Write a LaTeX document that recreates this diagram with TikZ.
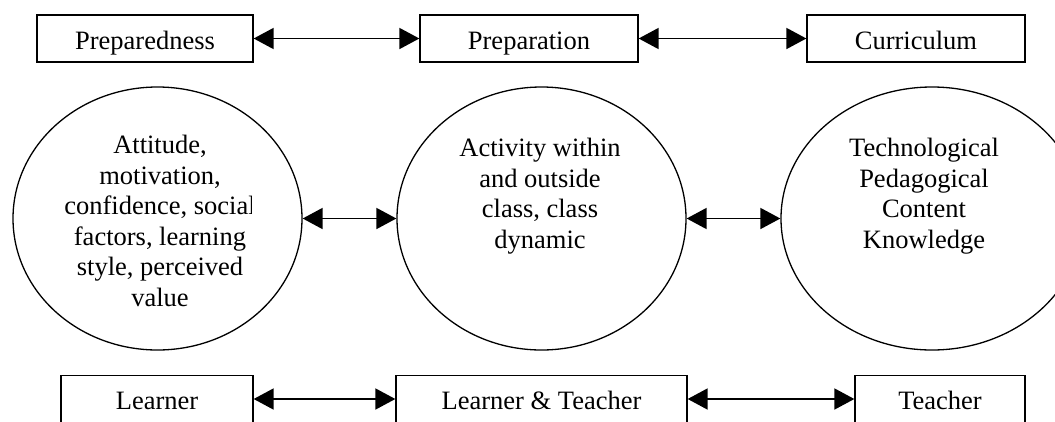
\documentclass[tikz,border=0pt]{standalone}
\usepackage{fontspec}
\setmainfont{Liberation Serif}
\usetikzlibrary{shapes.geometric,arrows.meta}
\tikzset{
  box/.style={draw, line width=1.3pt, rectangle, minimum height=47pt, inner sep=0pt},
  oval/.style={draw, line width=1.3pt, ellipse, inner sep=0pt},
  txt/.style={align=center, inner sep=0pt},
  lbl/.style={inner sep=0pt, anchor=base},
  dbl/.style={line width=1.8pt, {Triangle[length=20pt,width=21pt]}-{Triangle[length=20pt,width=21pt]}}
}
\begin{document}
\begin{tikzpicture}[x=1pt,y=-1pt,font=\fontsize{26.5}{30.5}\selectfont]
\useasboundingbox (0,0) rectangle (1055,421);
\clip (0,0) rectangle (1055,421);
% top row
\node[box, minimum width=216pt] (prd) at (145,38.5) {};
\node[box, minimum width=218pt] (prp) at (529,38.5) {};
\node[box, minimum width=218pt] (cur) at (916,38.5) {};
\node[lbl] (prdt) at (145,49) {Preparedness};
\node[lbl] (prpt) at (529,49) {Preparation};
\node[lbl] (curt) at (916,49) {Curriculum};
\draw[dbl] (prd.east) -- (prp.west);
\draw[dbl] (prp.east) -- (cur.west);
% ovals
\node[oval, minimum width=289pt, minimum height=263pt] (o1) at (157.5,218.5) {};
\node[oval, minimum width=289pt, minimum height=263pt] (o2) at (541.5,218.5) {};
\node[oval, minimum width=302pt, minimum height=263pt] (o3) at (932,218.5) {};
\draw[dbl] (o1.east) -- (o2.west);
\draw[dbl] (o2.east) -- (o3.west);
\begin{scope}
\clip (0,0) rectangle (251,421);
\node[txt] (t1) at (160,221) {Attitude,\\motivation,\\confidence, social\\factors, learning\\style, perceived\\value};
\end{scope}
\node[txt] (t2) at (540,196) {Activity within\\and outside\\class, class\\dynamic};
\node[txt] (t3) at (924,196) {Technological\\Pedagogical\\Content\\Knowledge};
% bottom row
\node[box, minimum width=192pt] (lrn) at (157,399) {};
\node[box, minimum width=291pt] (lt) at (541.5,399) {};
\node[box, minimum width=170pt] (tch) at (940,399) {};
\node[lbl] (lrnt) at (157,409.5) {Learner};
\node[lbl] (ltt) at (541.5,409.5) {Learner \& Teacher};
\node[lbl] (tcht) at (940,409.5) {Teacher};
\draw[dbl] (lrn.east) -- (lt.west);
\draw[dbl] (lt.east) -- (tch.west);
\end{tikzpicture}
\end{document}
